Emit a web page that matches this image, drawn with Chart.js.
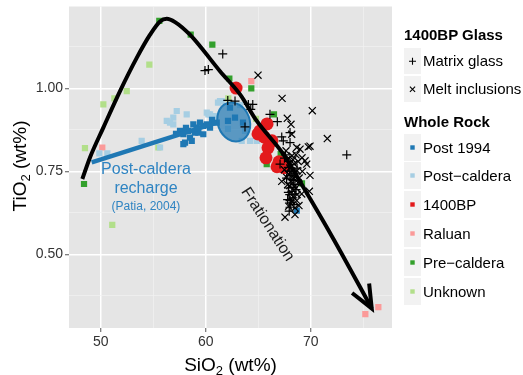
<!DOCTYPE html>
<html>
<head>
<meta charset="utf-8">
<script src="https://cdn.jsdelivr.net/npm/chart.js@4.4.0/dist/chart.umd.min.js"></script>
<style>
body { margin: 0; background: #fff; }
#wrap { position: relative; width: 523px; height: 375px; font-family: "Liberation Sans", Arial, sans-serif; color: #000; }
canvas { position: absolute; left: 0; top: 0; }
.axis-title { position: absolute; font-size: 19px; white-space: nowrap; text-align: center; line-height: 24px; }
.axis-title sub { font-size: 13px; vertical-align: -4px; line-height: 0; }
#xtitle { left: 0; width: 461px; top: 353px; }
#ytitle { left: -80px; top: 154px; width: 200px; height: 24px; transform: rotate(-90deg); }
.lg-title { position: absolute; left: 404px; font-weight: bold; font-size: 15px; line-height: 18px; white-space: nowrap; }
.lg-row { position: absolute; left: 404px; width: 118px; }
.lg-key { position: absolute; left: 0; top: 0; width: 17px; height: 100%; background: #f2f2f2; }
.lg-key svg { position: absolute; left: 0; top: 0; }
.lg-label { position: absolute; left: 19px; top: 0; font-size: 15px; white-space: nowrap; }
</style>
</head>
<body>
<div id="wrap">
  <canvas id="chart" width="523" height="375"></canvas>
  <div class="axis-title" id="xtitle">SiO<sub>2</sub> (wt%)</div>
  <div class="axis-title" id="ytitle">TiO<sub>2</sub> (wt%)</div>
  <div id="legend"></div>
</div>
<script>
// axis ranges and ticks
const xMin = 46.98, xMax = 77.74;
const yMin = 0.278, yMax = 1.247;
const xGrid = [50, 55, 60, 65, 70, 75];
const xMajor = [50, 60, 70];
const yGrid = [0.375, 0.5, 0.625, 0.75, 0.875, 1.0, 1.125];
const yMajor = [0.5, 0.75, 1.0];

// legend labels / colours
const glassLabels = ['Matrix glass', 'Melt inclusions'];
const rockLabels = ['Post 1994', 'Post\u2212caldera', '1400BP', 'Raluan', 'Pre\u2212caldera', 'Unknown'];
const rockColors = ['#1F78B4', '#A6CEE3', '#E31A1C', '#FB9A99', '#33A02C', '#B2DF8A'];

// whole rock samples [SiO2, TiO2]
const post1994 = [[57.55,0.872],[57.87,0.862],[58.03,0.837],[58.50,0.852],[58.82,0.892],[59.14,0.882],[59.46,0.897],
  [59.77,0.887],[60.10,0.892],[58.67,0.842],[58.34,0.872],[58.98,0.867],[57.87,0.832],[59.30,0.867],[59.77,0.862],
  [60.41,0.882],[61.05,0.897],[62.31,0.942],[62.79,0.912],[63.55,0.897],[62.12,0.902],[68.67,0.632],[57.17,0.863],
  [58.12,0.881],[60.60,0.905]];
const postCaldera = [[56.29,0.902],[56.91,0.912],[58.19,0.922],[56.91,0.892],[53.90,0.842],[55.65,0.822],[49.87,0.804],
  [50.63,0.804],[60.25,0.922],[57.24,0.932],[61.36,0.962],[60.41,0.922],[60.10,0.927],[64.22,0.842],[64.86,0.842],
  [63.43,0.842],[61.17,0.957],[61.52,0.962],[56.60,0.897],[60.79,0.917],[63.27,0.950],[63.74,0.872],[62.12,0.878]];
const bp1400 = [[62.89,1.001],[65.84,0.893],[64.98,0.863],[65.55,0.854],[66.31,0.842],[65.93,0.821],[65.74,0.791],
  [66.98,0.779],[67.46,0.761],[65.17,0.872],[66.79,0.764]];
const raluan = [[64.34,1.022],[50.15,0.822],[75.20,0.320],[76.44,0.341]];
const preCaldera = [[55.58,1.204],[58.57,1.162],[60.63,1.132],[62.25,1.030],[64.34,1.000],[66.50,0.922],[65.81,0.772],
  [48.41,0.712],[69.17,0.714],[67.14,0.802]];
const unknown = [[54.63,1.072],[52.48,0.992],[51.30,0.970],[50.25,0.952],[55.49,0.822],[48.50,0.820],[51.10,0.589],
  [62.15,0.970],[64.79,0.908]];

// 1400BP glass analyses
const matrixGlass = [[61.62,1.104],[59.93,1.054],[60.25,1.057],[62.10,0.964],[62.79,0.962],[64.06,0.952],[64.48,0.952],
  [64.29,0.937],[63.74,0.884],[66.12,0.922],[66.82,0.900],[67.24,0.854],[68.03,0.867],[68.03,0.837],[67.08,0.772],
  [67.87,0.762],[68.03,0.737],[68.34,0.722],[68.03,0.662],[67.87,0.687],[68.50,0.682],[68.03,0.642],[73.43,0.800],
  [67.39,0.842],[68.19,0.752],[68.34,0.702],[67.6,0.800],[67.9,0.780],[68.2,0.770],[68.0,0.750],[68.4,0.745],
  [67.7,0.730],[68.1,0.715],[68.5,0.710],[67.9,0.700],[68.2,0.690],[68.6,0.695],[68.0,0.680],[68.3,0.670],
  [67.8,0.665],[68.1,0.655],[68.4,0.650],[67.95,0.630],[68.2,0.725],[68.7,0.760],[67.5,0.790]];
const meltInclusions = [[64.98,1.040],[67.27,0.970],[70.15,0.933],[71.58,0.849],[69.93,0.826],[67.77,0.910],[68.12,0.892],
  [68.19,0.862],[68.98,0.817],[69.77,0.824],[69.46,0.782],[69.62,0.772],[69.93,0.738],[67.24,0.720],[67.71,0.732],
  [67.55,0.612],[68.50,0.620],[68.67,0.822],[69.14,0.682],[68.67,0.662],[69.87,0.690],[67.87,0.742],[68.22,0.797],
  [68.41,0.773],[68.70,0.752],[67.99,0.707],[68.79,0.716],[68.31,0.674],[68.88,0.647],[67.65,0.812],[69.17,0.791],
  [68.50,0.734],[67.9,0.790],[68.3,0.785],[68.6,0.800],[68.0,0.760],[68.4,0.730],[68.9,0.730],[67.8,0.710],
  [68.6,0.700],[68.2,0.660],[68.5,0.640],[67.9,0.645],[68.7,0.680],[69.2,0.750],[68.8,0.780],[67.5,0.755]];

// hand drawn annotations (data units)
const trendX = [48.25, 48.98, 50.25, 51.84, 53.43, 54.70, 55.65, 56.29, 57.08, 58.50, 59.46, 61.36, 63.27, 64.86, 67.39, 69.30, 72.15, 75.81];
const trendY = [0.727, 0.792, 0.882, 0.992, 1.092, 1.162, 1.202, 1.210, 1.200, 1.162, 1.127, 1.052, 0.982, 0.902, 0.802, 0.702, 0.547, 0.337];
const rechargeX = [49.14, 61.05];
const rechargeY = [0.777, 0.897];
const ellipseCenter = [62.67, 0.899];
const ellipseRadius = [1.52, 0.060];

const pts = arr => arr.map(p => ({x: p[0], y: p[1]}));
const zip = (xs, ys) => xs.map((x, i) => ({x: x, y: ys[i]}));

function squares(label, data, color) {
    return { label: label, data: pts(data), pointStyle: 'rect', pointRadius: 4.4, backgroundColor: color, borderWidth: 0 };
}

const backdrop = {
    id: 'backdrop',
    beforeDraw(chart) {
        const a = chart.chartArea, ctx = chart.ctx;
        ctx.save();
        ctx.fillStyle = '#E5E5E5';
        ctx.fillRect(a.left, a.top, a.right - a.left, a.bottom - a.top);
        ctx.restore();
    }
};

// blue ellipse drawn right after the Post 1994 squares
const blob = {
    id: 'blob',
    afterDatasetDraw(chart, args) {
        if (chart.data.datasets[args.index].label !== 'Post 1994') return;
        const sx = chart.scales.x, sy = chart.scales.y, ctx = chart.ctx;
        const cx = sx.getPixelForValue(ellipseCenter[0]);
        const cy = sy.getPixelForValue(ellipseCenter[1]);
        const rx = Math.abs(sx.getPixelForValue(ellipseCenter[0] + ellipseRadius[0]) - cx);
        const ry = Math.abs(sy.getPixelForValue(ellipseCenter[1] + ellipseRadius[1]) - cy);
        ctx.save();
        ctx.beginPath();
        ctx.ellipse(cx, cy, rx, ry, -0.35, 0, Math.PI * 2);
        ctx.fillStyle = 'rgba(31,120,180,0.7)';
        ctx.fill();
        ctx.lineWidth = 2;
        ctx.strokeStyle = '#1F78B4';
        ctx.stroke();
        ctx.restore();
    }
};

const notes = {
    id: 'notes',
    afterDatasetsDraw(chart) {
        const sx = chart.scales.x, sy = chart.scales.y, ctx = chart.ctx;
        const px = v => sx.getPixelForValue(v), py = v => sy.getPixelForValue(v);
        ctx.save();
        // arrow head at the end of the trend line
        const n = trendX.length;
        const tx = px(trendX[n - 1]), ty = py(trendY[n - 1]);
        const ang = Math.atan2(ty - py(trendY[n - 2]), tx - px(trendX[n - 2]));
        ctx.strokeStyle = '#000';
        ctx.lineWidth = 4;
        ctx.lineJoin = 'miter';
        ctx.beginPath();
        ctx.moveTo(tx - 25 * Math.cos(ang - 0.4), ty - 25 * Math.sin(ang - 0.4));
        ctx.lineTo(tx, ty);
        ctx.lineTo(tx - 25 * Math.cos(ang + 0.4), ty - 25 * Math.sin(ang + 0.4));
        ctx.stroke();

        // text
        ctx.textAlign = 'center';
        ctx.textBaseline = 'middle';
        ctx.fillStyle = '#2F84C2';
        ctx.font = '16px "Liberation Sans"';
        ctx.fillText('Post-caldera', px(54.31), py(0.754));
        ctx.fillText('recharge', px(54.31), py(0.697));
        ctx.font = '12px "Liberation Sans"';
        ctx.fillText('(Patia, 2004)', px(54.31), py(0.644));

        ctx.fillStyle = '#1a1a1a';
        ctx.font = '16px "Liberation Sans"';
        ctx.translate(px(65.89), py(0.590));
        ctx.rotate(57 * Math.PI / 180);
        ctx.fillText('Frationation', 0, 0);
        ctx.restore();
    }
};

const tickFont = { family: 'Liberation Sans', size: 14 };

new Chart(document.getElementById('chart'), {
    type: 'scatter',
    data: {
        datasets: [
            { type: 'line', label: 'trend', data: zip(trendX, trendY), showLine: true, borderColor: '#000',
              borderWidth: 4, pointRadius: 0, cubicInterpolationMode: 'monotone', fill: false },
            { label: 'Matrix glass', data: pts(matrixGlass), pointStyle: 'cross', pointRadius: 4.5,
              borderColor: '#000', borderWidth: 1.2 },
            { label: 'Melt inclusions', data: pts(meltInclusions), pointStyle: 'crossRot', pointRadius: 5,
              borderColor: '#000', borderWidth: 1.2 },
            { type: 'line', label: 'recharge', data: zip(rechargeX, rechargeY), showLine: true,
              borderColor: '#1F78B4', borderWidth: 4.5, pointRadius: 0 },
            { label: '1400BP', data: pts(bp1400), pointStyle: 'circle', pointRadius: 6.5,
              backgroundColor: '#E31A1C', borderWidth: 0 },
            squares('Post 1994', post1994, rockColors[0]),
            squares('Post-caldera', postCaldera, rockColors[1]),
            squares('Raluan', raluan, rockColors[3]),
            squares('Pre-caldera', preCaldera, rockColors[4]),
            squares('Unknown', unknown, rockColors[5])
        ]
    },
    options: {
        responsive: false,
        animation: false,
        devicePixelRatio: 1,
        layout: { padding: { left: 0, top: 5, right: 131, bottom: 0 } },
        plugins: { legend: { display: false }, tooltip: { enabled: false } },
        scales: {
            x: {
                type: 'linear', min: xMin, max: xMax,
                afterBuildTicks: s => { s.ticks = xGrid.map(v => ({ value: v })); },
                afterFit: s => { s.height = 47; s.paddingLeft = 0; s.paddingRight = 0; },
                border: { display: false },
                grid: {
                    color: c => (c.tick && xMajor.includes(c.tick.value)) ? '#ffffff' : '#F2F2F2',
                    lineWidth: c => (c.tick && xMajor.includes(c.tick.value)) ? 1.5 : 0.7,
                    tickColor: c => (c.tick && xMajor.includes(c.tick.value)) ? '#555' : 'rgba(0,0,0,0)',
                    tickLength: 4,
                    tickWidth: 1
                },
                ticks: { callback: v => xMajor.includes(v) ? String(v) : '', color: '#333', font: tickFont,
                         padding: 2, maxRotation: 0, autoSkip: false }
            },
            y: {
                type: 'linear', min: yMin, max: yMax,
                afterBuildTicks: s => { s.ticks = yGrid.map(v => ({ value: v })); },
                afterFit: s => { s.width = 69; s.paddingTop = 0; s.paddingBottom = 0; },
                border: { display: false },
                grid: {
                    color: c => (c.tick && yMajor.includes(c.tick.value)) ? '#ffffff' : '#F2F2F2',
                    lineWidth: c => (c.tick && yMajor.includes(c.tick.value)) ? 1.5 : 0.7,
                    tickColor: c => (c.tick && yMajor.includes(c.tick.value)) ? '#555' : 'rgba(0,0,0,0)',
                    tickLength: 4,
                    tickWidth: 1
                },
                ticks: { callback: v => yMajor.includes(v) ? v.toFixed(2) : '', color: '#333', font: tickFont,
                         padding: 2, autoSkip: false }
            }
        }
    },
    plugins: [backdrop, blob, notes]
});

// legend
const legend = document.getElementById('legend');
function addTitle(text, top) {
    const d = document.createElement('div');
    d.className = 'lg-title';
    d.style.top = top + 'px';
    d.textContent = text;
    legend.appendChild(d);
}
function addRow(label, top, h, symbol) {
    const row = document.createElement('div');
    row.className = 'lg-row';
    row.style.top = top + 'px';
    row.style.height = h + 'px';
    const key = document.createElement('div');
    key.className = 'lg-key';
    key.innerHTML = '<svg width="17" height="' + h + '">' + symbol(8.5, h / 2) + '</svg>';
    const lab = document.createElement('div');
    lab.className = 'lg-label';
    lab.style.lineHeight = h + 'px';
    lab.textContent = label;
    row.appendChild(key);
    row.appendChild(lab);
    legend.appendChild(row);
}
const plus = (x, y) => '<path d="M' + (x - 3.5) + ' ' + y + 'H' + (x + 3.5) + 'M' + x + ' ' + (y - 3.5) + 'V' + (y + 3.5) + '" stroke="#000" stroke-width="1.1"/>';
const times = (x, y) => '<path d="M' + (x - 2.6) + ' ' + (y - 2.6) + 'L' + (x + 2.6) + ' ' + (y + 2.6) + 'M' + (x - 2.6) + ' ' + (y + 2.6) + 'L' + (x + 2.6) + ' ' + (y - 2.6) + '" stroke="#000" stroke-width="1.1"/>';
const box = c => (x, y) => '<rect x="' + (x - 2.2) + '" y="' + (y - 2.2) + '" width="4.4" height="4.4" fill="' + c + '"/>';

addTitle('1400BP Glass', 26);
addRow(glassLabels[0], 47.5, 26.5, plus);
addRow(glassLabels[1], 75.5, 26.5, times);
addTitle('Whole Rock', 113);
rockLabels.forEach((lab, i) => addRow(lab, 133.5 + i * 28.8, 27, box(rockColors[i])));
</script>
</body>
</html>
